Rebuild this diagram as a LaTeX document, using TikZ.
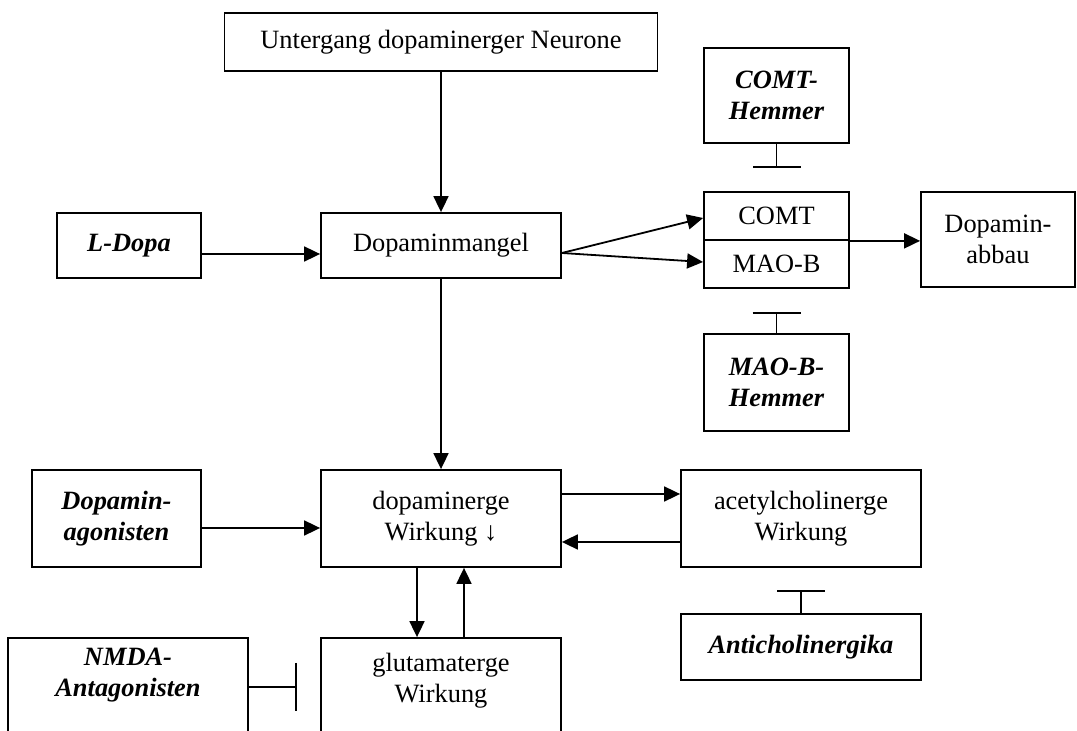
\documentclass[tikz,border=0pt]{standalone}
\usepackage{fontspec}
\setmainfont{Liberation Serif}
\usetikzlibrary{arrows.meta}
\begin{document}
\begin{tikzpicture}[x=0.5pt,y=-0.5pt,
  txt/.style={font=\fontsize{13.2}{15.5}\selectfont},
  dtxt/.style={font=\fontsize{13.2}{15.5}\selectfont\bfseries\itshape},
  box/.style={draw, line width=0.9pt, inner sep=0pt, align=center, txt},
  drug/.style={box, dtxt},
  sz/.style 2 args={minimum width=#1*0.5pt, minimum height=#2*0.5pt},
  lbl/.style={inner sep=0pt, align=center, txt},
  dlbl/.style={inner sep=0pt, align=center, dtxt},
  arr/.style={line width=0.9pt, -{Triangle[length=8pt,width=7.5pt]}},
  inh/.style={line width=0.9pt, -{Bar[width=24pt]}}]
\useasboundingbox (0,0) rectangle (1077,731);
\clip (0,0) rectangle (1077,731);

\node[box, sz={433}{58}] (unt) at (441,42) {Untergang dopaminerger Neurone};
\node[drug, sz={144}{65}] (ldopa) at (129,245.5) {L-Dopa};
\node[box, sz={240}{65}] (dm) at (441,245.5) {Dopaminmangel};
\node[drug, sz={145}{95}] (hemA) at (776.5,95.5) {COMT-\\Hemmer};
\node[box, sz={145}{48}] (comt) at (776.5,216) {COMT};
\node[box, sz={145}{48}] (mao) at (776.5,264) {MAO-B};
\node[box, sz={154}{95}] (abbau) at (998,239.5) {Dopamin-\\abbau};
\node[drug, sz={145}{97}] (hemB) at (776.5,382.5) {MAO-B-\\Hemmer};
\node[drug, sz={169}{97}] (ag) at (116.5,518.5) {Dopamin-\\agonisten};
\node[box, sz={240}{97}] (dw) at (441,518.5) {dopaminerge\\Wirkung ↓};
\node[box, sz={240}{97}] (ach) at (801,518.5) {acetylcholinerge\\Wirkung};
\node[drug, sz={240}{66}] (anti) at (801,647) {Anticholinergika};
\node[box, sz={240}{122}] (nmda) at (128,699) {};
\node[dlbl] (nmdat) at (128,675) {NMDA-\\Antagonisten};
\node[box, sz={240}{122}] (glu) at (441,699) {};
\node[lbl] (glut) at (441,681) {glutamaterge\\Wirkung};

\coordinate (barA) at (776.5,168);
\coordinate (barB) at (776.5,312);
\coordinate (barC) at (801,590);
\coordinate (barD) at (297,687);

\draw[arr] (unt.south) -- (dm.north);
\draw[arr] (ldopa.east |- 0,254) -- (dm.west |- 0,254);
\draw[arr] (dm.east |- 0,253) -- (comt.west |- 0,218);
\draw[arr] (dm.east |- 0,253) -- (mao.west |- 0,262);
\draw[arr] (comt.south east) -- (abbau.west |- comt.south east);
\draw[inh] (hemA.south) -- (barA);
\draw[inh] (hemB.north) -- (barB);
\draw[arr] (dm.south) -- (dw.north);
\draw[arr] (ag.east |- 0,528) -- (dw.west |- 0,528);
\draw[arr] (dw.east |- 0,494) -- (ach.west |- 0,494);
\draw[arr] (ach.west |- 0,542) -- (dw.east |- 0,542);
\draw[arr] (dw.south -| 417,0) -- (glu.north -| 417,0);
\draw[arr] (glu.north -| 464,0) -- (dw.south -| 464,0);
\draw[inh] (anti.north) -- (barC);
\draw[inh] (nmda.east |- barD) -- (barD);
\end{tikzpicture}
\end{document}
